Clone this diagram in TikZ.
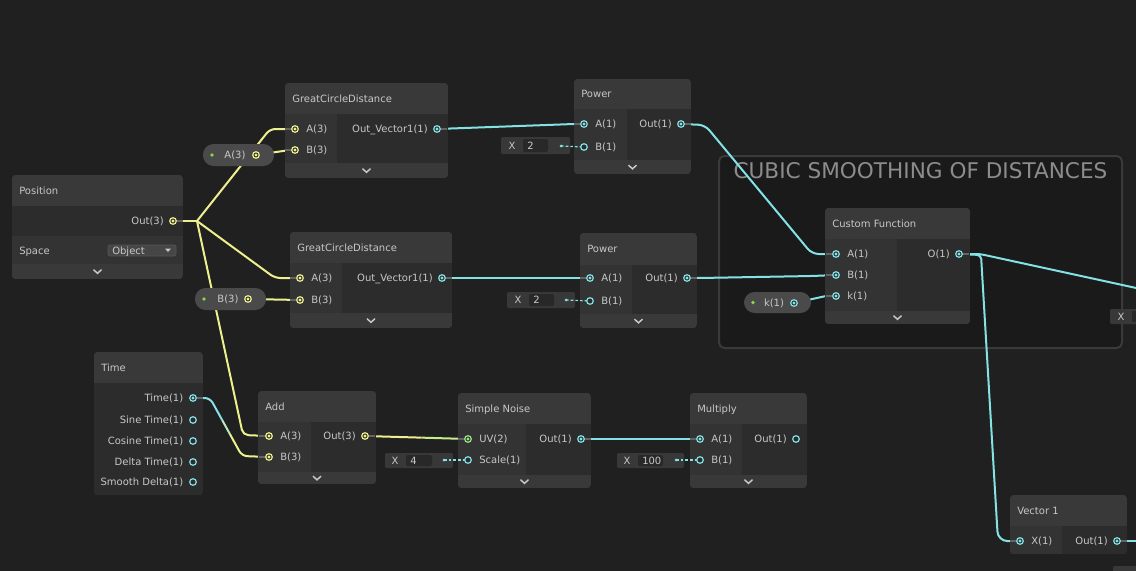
\documentclass[tikz,border=0pt]{standalone}
\usepackage{fontspec}
\setmainfont{DejaVu Sans}
\usetikzlibrary{calc}
\definecolor{bg}{HTML}{202020}
\definecolor{nhead}{HTML}{393939}
\definecolor{nin}{HTML}{333333}
\definecolor{nout}{HTML}{2C2C2C}
\definecolor{txt}{HTML}{C8C8C8}
\definecolor{ycol}{HTML}{EEEF8E}
\definecolor{ccol}{HTML}{84E2E6}
\definecolor{gcol}{HTML}{9AE88A}
\definecolor{pillc}{HTML}{4A4A4A}
\definecolor{grpbg}{HTML}{1A1A1A}
\definecolor{grpline}{HTML}{3A3A3A}
\definecolor{grptxt}{HTML}{8C8C8C}
\definecolor{fld}{HTML}{383838}
\definecolor{fldin}{HTML}{282828}
\definecolor{dotg}{HTML}{8FD14F}
\definecolor{stubc}{HTML}{646464}
\definecolor{ddc}{HTML}{464646}
\definecolor{ddline}{HTML}{555555}
\tikzset{
  lbl/.style={text=txt, font=\fontsize{7.5}{9}\selectfont, inner sep=0pt},
  yw/.style={draw=ycol, line width=1.5pt},
  cw/.style={draw=ccol, line width=1.5pt},
  stub/.style={draw=stubc, line width=1pt},
  dotw/.style={draw=ccol, line width=0.9pt, dash pattern=on 2pt off 1.5pt},
  chevron/.style={draw=txt, line width=1.1pt},
}
% name, x1, y1, x2, y2, title bottom, body bottom, divider, title
\newcommand{\gnode}[9]{%
  \begin{scope}
    \clip[rounded corners=2.5pt] (#2,#3) rectangle (#4,#5);
    \fill[nhead] (#2,#3) rectangle (#4,#5);
    \fill[nin] (#2,#6) rectangle (#8,#7);
    \fill[nout] (#8,#6) rectangle (#4,#7);
  \end{scope}
  \node[lbl, anchor=mid west] (#1) at ({#2+7},{(#3+#6)/2}) {#9};
}
\newcommand{\chev}[2]{\draw[chevron] ({#1-4},{#2-1.8}) -- (#1,{#2+1.8}) -- ({#1+4},{#2-1.8});}
\newcommand{\portc}[2]{\filldraw[draw=#2, fill=nout, line width=0.9pt] (#1) circle[radius=3.3]; \fill[#2] (#1) circle[radius=1.7];}
\newcommand{\porto}[2]{\filldraw[draw=#2, fill=nout, line width=0.9pt] (#1) circle[radius=3.3];}
\newcommand{\stubin}[1]{\draw[stub] (#1) -- ++(-10,0);}
\newcommand{\stubout}[1]{\draw[stub] (#1) -- ++(10,0);}
% name, x1, y1, x2, y2, innerx1, innerx2, X pos, value
\newcommand{\fieldbox}[9]{%
  \fill[fld, rounded corners=1pt] (#2,#3) rectangle (#4,#5);
  \fill[fldin, rounded corners=1pt] (#6,{#3+2}) rectangle (#7,{#5-2});
  \node[lbl, anchor=mid] (#1-x) at (#8,{(#3+#5)/2}) {X};
  \node[lbl, anchor=mid west] (#1-v) at ({#6+4},{(#3+#5)/2}) {#9};
}
\begin{document}
\begin{tikzpicture}[x=0.75pt, y=-0.75pt]
\useasboundingbox (0,0) rectangle (1136,571);
\clip (0,0) rectangle (1136,571);
\fill[bg] (0,0) rectangle (1136,571);

% group
\filldraw[fill=grpbg, draw=grpline, line width=1.5pt, rounded corners=4pt] (719,156) rectangle (1122,348);
\node[text=grptxt, font=\fontsize{16.2}{19}\selectfont, inner sep=0pt] (grp) at (920.5,171) {CUBIC SMOOTHING OF DISTANCES};

% port coordinates
\coordinate (pos-out) at (173,221);
\coordinate (fork) at (197,221);
\coordinate (gcd1-a) at (295,129);
\coordinate (gcd1-b) at (295,150);
\coordinate (gcd1-o) at (437,129);
\coordinate (pa-p) at (256,155);
\coordinate (pb-p) at (248,299);
\coordinate (pk-p) at (794,303);
\coordinate (gcd2-a) at (300,278);
\coordinate (gcd2-b) at (300,300);
\coordinate (gcd2-o) at (442,278);
\coordinate (pw1-a) at (584,124);
\coordinate (pw1-b) at (584,147);
\coordinate (pw1-o) at (681,124);
\coordinate (pw2-a) at (590,278);
\coordinate (pw2-b) at (590,301);
\coordinate (pw2-o) at (687,278);
\coordinate (cf-a) at (836,254);
\coordinate (cf-b) at (836,275);
\coordinate (cf-k) at (836,296);
\coordinate (cf-o) at (959,254);
\coordinate (time-t) at (193,398);
\coordinate (time-s) at (193,420);
\coordinate (time-c) at (193,441);
\coordinate (time-d) at (193,462);
\coordinate (time-sd) at (193,482);
\coordinate (add-a) at (269,436);
\coordinate (add-b) at (269,457);
\coordinate (add-o) at (365,436);
\coordinate (sn-uv) at (468,439);
\coordinate (sn-sc) at (468,460);
\coordinate (sn-o) at (581,439);
\coordinate (mul-a) at (700,439);
\coordinate (mul-b) at (700,460);
\coordinate (mul-o) at (796,439);
\coordinate (v1-x) at (1020,541);
\coordinate (v1-o) at (1117,541);
\coordinate (edge1) at (1150,291);
\coordinate (edge2) at (1150,541);
\coordinate (f1-d) at (561,146);
\coordinate (f2-d) at (566,300);
\coordinate (f3-d) at (444,460);
\coordinate (f4-d) at (676,460);

% wires
\draw[yw] (pos-out) -- (fork);
\draw[yw, rounded corners=4pt] (fork) -- ($(gcd1-a)+(-25,0)$) -- (gcd1-a);
\draw[yw, rounded corners=4pt] (fork) -- ($(gcd2-a)+(-25,0)$) -- (gcd2-a);
\draw[yw, rounded corners=4pt] (fork) -- ($(add-a)+(-26,-1)$) -- (add-a);
\draw[yw] (pa-p) -- ($(gcd1-b)+(-12,1)$) -- (gcd1-b);
\draw[yw] (pb-p) -- (gcd2-b);
\coordinate (tb1) at ($(time-t)+(17,0)$);
\coordinate (tb2) at ($(add-b)+(-27,-1)$);
\coordinate (tm1) at ($(tb1)!0.38!(tb2)$);
\coordinate (tm2) at ($(tb1)!0.62!(tb2)$);
\draw[cw, rounded corners=4pt] (time-t) -- (tb1) -- (tm1);
\draw[line width=1.5pt, draw=ccol!50!ycol] (tm1) -- (tm2);
\draw[yw, rounded corners=4pt] (tm2) -- (tb2) -- (add-b);
\coordinate (am) at ($(add-o)!0.55!(sn-uv)$);
\draw[yw] (add-o) -- (am);
\draw[line width=1.5pt, draw=ycol!55!gcol] (am) -- (sn-uv);
\draw[cw] (sn-o) -- (mul-a);
\draw[cw] (gcd1-o) -- ($(pw1-a)+(-10,0)$) -- (pw1-a);
\draw[cw] (gcd2-o) -- (pw2-a);
\draw[cw, rounded corners=5pt] (pw1-o) -- ($(pw1-o)+(24,1)$) -- ($(cf-a)+(-24,0)$) -- (cf-a);
\draw[cw, rounded corners=5pt] (pw2-o) -- ($(pw2-o)+(13,0)$) -- ($(cf-b)+(-24,1)$) -- (cf-b);
\draw[cw] (pk-p) -- ($(cf-k)+(-10,0)$) -- (cf-k);
\draw[cw, rounded corners=3pt] (cf-o) -- ($(cf-o)+(21,0)$) -- (edge1);
\draw[cw, rounded corners=3pt] (cf-o) -- ($(cf-o)+(22,1)$) [rounded corners=7pt] -- ($(v1-x)+(-22,0)$) -- (v1-x);
\draw[cw] (v1-o) -- (edge2);

% nodes
\gnode{pos}{12}{175}{183}{279}{206}{264}{12}{Position}
\fill[nin] (12,236) rectangle (183,264);
\chev{97.5}{271.5}
\node[lbl, anchor=mid east] (pos-ol) at ($(pos-out)+(-9,0)$) {Out(3)};
\node[lbl, anchor=mid west] (pos-sp) at (19,250.5) {Space};
\filldraw[fill=ddc, draw=ddline, line width=0.5pt, rounded corners=1.5pt] (108,245) rectangle (176,256);
\node[lbl, anchor=mid west] (pos-dd) at (112,250.5) {Object};
\fill[txt] (165,248.5) -- (171,248.5) -- (168,252) -- cycle;

\gnode{gcd1}{285}{83}{448}{178}{114}{163}{337}{GreatCircleDistance}
\chev{366.5}{170.5}
\node[lbl, anchor=mid west] (gcd1-al) at ($(gcd1-a)+(11,0)$) {A(3)};
\node[lbl, anchor=mid west] (gcd1-bl) at ($(gcd1-b)+(11,0)$) {B(3)};
\node[lbl, anchor=mid east] (gcd1-ol) at ($(gcd1-o)+(-9,0)$) {Out\_Vector1(1)};

\gnode{pw1}{574}{79}{691}{174}{109}{160}{627}{Power}
\chev{632.5}{167}
\node[lbl, anchor=mid west] (pw1-al) at ($(pw1-a)+(11,0)$) {A(1)};
\node[lbl, anchor=mid west] (pw1-bl) at ($(pw1-b)+(11,0)$) {B(1)};
\node[lbl, anchor=mid east] (pw1-ol) at ($(pw1-o)+(-9,0)$) {Out(1)};

\gnode{gcd2}{290}{232}{452}{328}{263}{313}{342}{GreatCircleDistance}
\chev{371}{320.5}
\node[lbl, anchor=mid west] (gcd2-al) at ($(gcd2-a)+(11,0)$) {A(3)};
\node[lbl, anchor=mid west] (gcd2-bl) at ($(gcd2-b)+(11,0)$) {B(3)};
\node[lbl, anchor=mid east] (gcd2-ol) at ($(gcd2-o)+(-9,0)$) {Out\_Vector1(1)};

\gnode{pw2}{580}{233}{697}{328}{265}{314}{632}{Power}
\chev{638.5}{321}
\node[lbl, anchor=mid west] (pw2-al) at ($(pw2-a)+(11,0)$) {A(1)};
\node[lbl, anchor=mid west] (pw2-bl) at ($(pw2-b)+(11,0)$) {B(1)};
\node[lbl, anchor=mid east] (pw2-ol) at ($(pw2-o)+(-9,0)$) {Out(1)};

\gnode{cf}{825}{208}{970}{324}{239}{311}{897}{Custom Function}
\chev{897.5}{317.5}
\node[lbl, anchor=mid west] (cf-al) at ($(cf-a)+(11,0)$) {A(1)};
\node[lbl, anchor=mid west] (cf-bl) at ($(cf-b)+(11,0)$) {B(1)};
\node[lbl, anchor=mid west] (cf-kl) at ($(cf-k)+(11,0)$) {k(1)};
\node[lbl, anchor=mid east] (cf-ol) at ($(cf-o)+(-9,0)$) {O(1)};

\gnode{time}{94}{352}{203}{495}{383}{495}{94}{Time}
\node[lbl, anchor=mid east] (time-tl) at ($(time-t)+(-9.5,0)$) {Time(1)};
\node[lbl, anchor=mid east] (time-sl) at ($(time-s)+(-9.5,0)$) {Sine Time(1)};
\node[lbl, anchor=mid east] (time-cl) at ($(time-c)+(-9.5,0)$) {Cosine Time(1)};
\node[lbl, anchor=mid east] (time-dl) at ($(time-d)+(-9.5,0)$) {Delta Time(1)};
\node[lbl, anchor=mid east] (time-sdl) at ($(time-sd)+(-9.5,0)$) {Smooth Delta(1)};

\gnode{add}{258}{391}{376}{484}{422}{472}{311}{Add}
\chev{317}{478}
\node[lbl, anchor=mid west] (add-al) at ($(add-a)+(11,0)$) {A(3)};
\node[lbl, anchor=mid west] (add-bl) at ($(add-b)+(11,0)$) {B(3)};
\node[lbl, anchor=mid east] (add-ol) at ($(add-o)+(-9,0)$) {Out(3)};

\gnode{sn}{458}{393}{591}{488}{424}{475}{526}{Simple Noise}
\chev{524.5}{481.5}
\node[lbl, anchor=mid west] (sn-uvl) at ($(sn-uv)+(11,0)$) {UV(2)};
\node[lbl, anchor=mid west] (sn-scl) at ($(sn-sc)+(11,0)$) {Scale(1)};
\node[lbl, anchor=mid east] (sn-ol) at ($(sn-o)+(-9,0)$) {Out(1)};

\gnode{mul}{690}{393}{807}{488}{424}{475}{742}{Multiply}
\chev{748.5}{481.5}
\node[lbl, anchor=mid west] (mul-al) at ($(mul-a)+(11,0)$) {A(1)};
\node[lbl, anchor=mid west] (mul-bl) at ($(mul-b)+(11,0)$) {B(1)};
\node[lbl, anchor=mid east] (mul-ol) at ($(mul-o)+(-9,0)$) {Out(1)};

\gnode{v1}{1010}{495}{1127}{554}{526}{554}{1062}{Vector 1}
\node[lbl, anchor=mid west] (v1-xl) at ($(v1-x)+(11,0)$) {X(1)};
\node[lbl, anchor=mid east] (v1-ol) at ($(v1-o)+(-9,0)$) {Out(1)};

% pills
\fill[pillc, rounded corners=8pt] (203,144) rectangle (274,166);
\fill[dotg] (212,155) circle[radius=1.8];
\node[lbl] (pa) at (235,155.5) {A(3)};
\fill[pillc, rounded corners=8pt] (195,288) rectangle (266,310);
\fill[dotg] (204,299) circle[radius=1.8];
\node[lbl] (pb) at (228,299.5) {B(3)};
\fill[pillc, rounded corners=8pt] (744,292) rectangle (811,313);
\fill[dotg] (753,302.5) circle[radius=1.8];
\node[lbl] (pk) at (774,303) {k(1)};

% fields
\fieldbox{f1}{501}{137}{570}{154}{523}{548}{512}{2}
\fieldbox{f2}{507}{292}{575}{308}{529}{554}{518}{2}
\fieldbox{f3}{385}{453}{453}{468}{406}{432}{395}{4}
\fieldbox{f4}{617}{453}{684}{468}{638}{663}{627}{100}
\fill[fld, rounded corners=1pt] (1110,309) rectangle (1142,324);
\fill[fldin] (1132,311) rectangle (1142,322);
\node[lbl] (f5-x) at (1121,316.5) {X};
\fill[fld, rounded corners=1pt] (1113,566) rectangle (1142,576);
\foreach \d/\p in {f1-d/pw1-b, f2-d/pw2-b, f3-d/sn-sc, f4-d/mul-b}{
  \draw[dotw] (\d) -- (\p);
  \fill[ccol] (\d) circle[radius=1.5];
}

% stubs
\foreach \p in {gcd1-a,gcd1-b,gcd2-a,gcd2-b,pw1-a,pw2-a,cf-a,cf-b,cf-k,add-a,add-b,sn-uv,mul-a,v1-x}{\stubin{\p}}
\foreach \p in {pos-out,gcd1-o,gcd2-o,pw1-o,pw2-o,cf-o,time-t,sn-o,add-o,v1-o}{\stubout{\p}}

% ports
\foreach \p in {pos-out,gcd1-a,gcd1-b,gcd2-a,gcd2-b,add-a,add-b,add-o,pa-p,pb-p}{\portc{\p}{ycol}}
\foreach \p in {gcd1-o,gcd2-o,pw1-a,pw1-o,pw2-a,pw2-o,cf-a,cf-b,cf-k,cf-o,time-t,sn-o,mul-a,v1-x,v1-o,pk-p}{\portc{\p}{ccol}}
\portc{sn-uv}{gcol}
\foreach \p in {pw1-b,pw2-b,sn-sc,mul-b,mul-o,time-s,time-c,time-d,time-sd}{\porto{\p}{ccol}}
\end{tikzpicture}
\end{document}
